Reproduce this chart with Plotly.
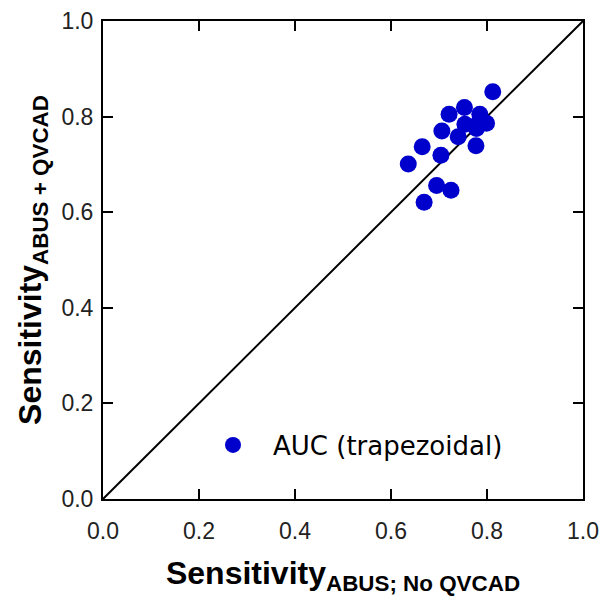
import plotly.graph_objects as go

x_no_qvcad = [0.812, 0.753, 0.721, 0.785, 0.754, 0.799, 0.778, 0.706, 0.740,
              0.665, 0.777, 0.704, 0.636, 0.695, 0.725, 0.669, 0.778]
y_qvcad = [0.852, 0.819, 0.805, 0.805, 0.784, 0.786, 0.782, 0.770, 0.758,
           0.737, 0.739, 0.719, 0.701, 0.656, 0.646, 0.621, 0.775]
diag = [0.0, 1.0]
ticks = [0.0, 0.2, 0.4, 0.6, 0.8, 1.0]
tick_labels = ["0.0", "0.2", "0.4", "0.6", "0.8", "1.0"]

fig = go.Figure()
fig.add_trace(go.Scatter(x=diag, y=diag, mode="lines",
                         line=dict(color="black", width=2), showlegend=False,
                         hoverinfo="skip"))
fig.add_trace(go.Scatter(x=x_no_qvcad, y=y_qvcad, mode="markers",
                         name="AUC (trapezoidal)",
                         marker=dict(color="#0000CC", size=17, line=dict(width=0))))

axis_common = dict(range=[0, 1], tickvals=ticks, ticktext=tick_labels,
                   ticks="inside", ticklen=10, tickwidth=2, tickcolor="black",
                   showline=True, linewidth=2, linecolor="black", mirror="allticks",
                   showgrid=False, zeroline=False, automargin=False,
                   tickfont=dict(family="Liberation Sans, Arial", size=23, color="#222"))

fig.update_layout(
    width=603, height=588,
    margin=dict(l=95, r=28, t=13, b=97),
    plot_bgcolor="white", paper_bgcolor="white",
    xaxis=dict(**axis_common, ticklabelstandoff=10,
               title=dict(text="<b>Sensitivity<sub>ABUS; No QVCAD</sub></b>",
                          font=dict(family="Liberation Sans, Arial", size=32, color="black"),
                          standoff=20)),
    yaxis=dict(**axis_common, ticklabelstandoff=3,
               title=dict(text="<b>Sensitivity<sub>ABUS + QVCAD</sub></b>",
                          font=dict(family="Liberation Sans, Arial", size=32, color="black"),
                          standoff=10)),
    legend=dict(x=0.1875, y=0.113, xanchor="left", yanchor="middle",
                bgcolor="rgba(0,0,0,0)", itemwidth=70,
                font=dict(family="DejaVu Sans", size=26, color="black")),
    showlegend=True,
)

fig.write_html("out.html")
